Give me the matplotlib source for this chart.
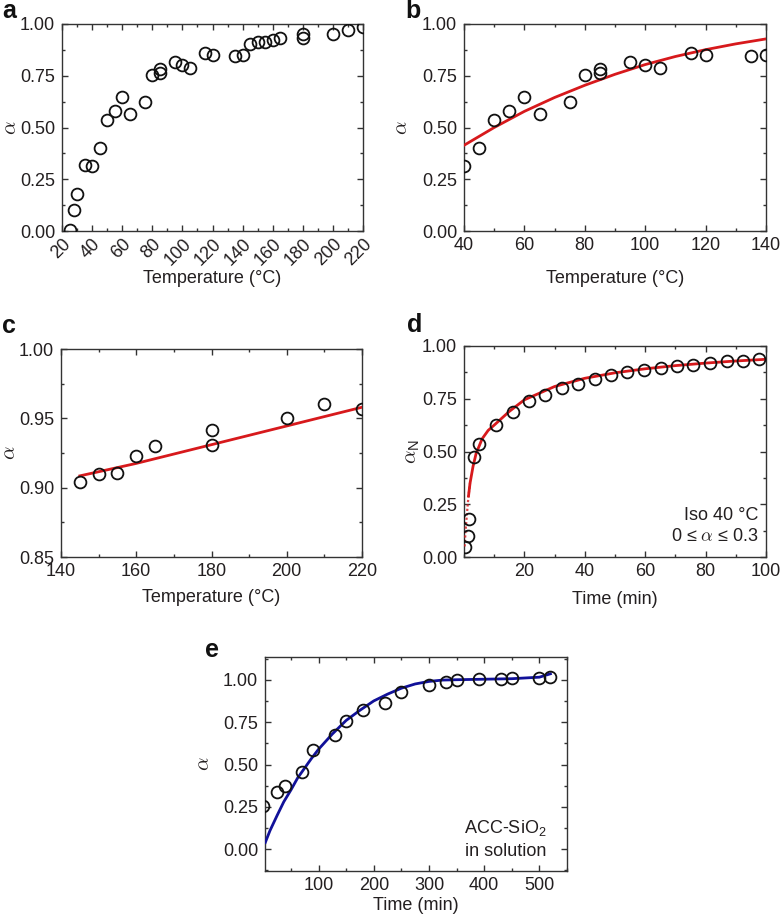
import numpy as np
import matplotlib
matplotlib.use('Agg')
import matplotlib.pyplot as plt
from matplotlib.ticker import MultipleLocator

# ---------------- dados ----------------
# painel a (e b usa os mesmos pontos, recortados em 40-140)
temp_a = [25, 28, 30, 35, 40, 45, 50, 55, 60, 65, 75, 80, 85, 85, 95, 100,
          105, 115, 120, 135, 140, 145, 150, 155, 160, 165, 180, 180, 200, 210, 220]
alpha_a = [0.005, 0.10, 0.177, 0.32, 0.315, 0.40, 0.536, 0.58, 0.645, 0.567,
           0.624, 0.752, 0.783, 0.762, 0.818, 0.80, 0.788, 0.858, 0.849, 0.843,
           0.852, 0.905, 0.911, 0.911, 0.925, 0.933, 0.931, 0.952, 0.952, 0.973, 0.986]

# ajuste do painel b
fit_b_T = [40, 50, 60, 70, 80, 90, 100, 110, 120, 130, 140]
fit_b_alpha = [0.414, 0.50, 0.578, 0.645, 0.704, 0.757, 0.804, 0.843, 0.876, 0.904, 0.928]

# painel c
temp_c = [145, 150, 155, 160, 165, 180, 180, 200, 210, 220]
alpha_c = [0.904, 0.910, 0.9105, 0.923, 0.930, 0.931, 0.9415, 0.950, 0.960, 0.957]
fit_c_T = [145, 160, 180, 200, 220]
fit_c_alpha = [0.9085, 0.9175, 0.931, 0.9445, 0.958]

# painel d
time_d = [0.3, 1.2, 1.8, 3.4, 5.1, 10.6, 16.2, 21.5, 26.8, 32.3, 37.9, 43.3,
          48.7, 54.1, 59.6, 65.1, 70.4, 75.9, 81.5, 87.0, 92.3, 97.8]
alpha_d = [0.047, 0.101, 0.18, 0.475, 0.535, 0.625, 0.687, 0.741, 0.767, 0.799,
           0.821, 0.842, 0.861, 0.877, 0.886, 0.897, 0.905, 0.910, 0.921, 0.929,
           0.930, 0.937]
fit_d_t = [0.2, 0.5, 1.0, 1.5, 2.0, 3.0, 4.0, 6.0, 8.0, 10, 15, 20, 30, 40,
           50, 60, 70, 80, 90, 100]
fit_d_alpha = [0.05, 0.12, 0.21, 0.29, 0.35, 0.43, 0.49, 0.56, 0.60, 0.625,
               0.69, 0.745, 0.808, 0.847, 0.873, 0.892, 0.907, 0.919, 0.929, 0.937]

# painel e
time_e = [0, 25, 40, 70, 90, 130, 150, 180, 220, 250, 300, 330, 350, 390,
          430, 450, 500, 520]
alpha_e = [0.256, 0.335, 0.374, 0.455, 0.587, 0.673, 0.758, 0.819, 0.862, 0.925,
           0.969, 0.988, 1.0, 1.004, 1.004, 1.008, 1.008, 1.016]
fit_e_t = [3.5, 12, 25, 37, 50, 62, 75, 87, 100, 125, 150, 175, 200, 225, 250,
           275, 300, 325, 350, 400, 450, 500, 520]
fit_e_alpha = [0.04, 0.11, 0.20, 0.28, 0.35, 0.42, 0.48, 0.535, 0.59, 0.68,
               0.76, 0.82, 0.875, 0.915, 0.95, 0.975, 0.99, 0.998, 1.0, 1.003,
               1.006, 1.015, 1.035]

# ---------------- estilo ----------------
plt.rcParams['font.family'] = ['Liberation Sans', 'DejaVu Sans']
plt.rcParams['mathtext.fontset'] = 'cm'
plt.rcParams['font.size'] = 13
TXT = '#231f20'
VERM = '#d7191c'
AZUL = '#111199'

W, H = 781, 917
fig = plt.figure(figsize=(W/100, H/100), dpi=100)


def caixa(l, r, t, b):
    # converte pixels da imagem em fracao da figura
    return [l/W, 1 - b/H, (r - l)/W, (b - t)/H]


def estilo(ax, xmaj, xmin, ymaj, ymin):
    ax.xaxis.set_major_locator(MultipleLocator(xmaj))
    ax.xaxis.set_minor_locator(MultipleLocator(xmin))
    ax.yaxis.set_major_locator(MultipleLocator(ymaj))
    ax.yaxis.set_minor_locator(MultipleLocator(ymin))
    ax.tick_params(which='both', direction='in', top=True, right=True,
                   colors='#333333', labelcolor=TXT, width=1.0)
    ax.tick_params(which='major', length=4)
    ax.tick_params(which='minor', length=2.2)
    ax.tick_params(axis='x', pad=4)
    ax.tick_params(axis='y', pad=5)
    ax.yaxis.set_major_formatter(lambda v, p: '%.2f' % v)
    for s in ax.spines.values():
        s.set_color('#333333')
        s.set_linewidth(1.0)


def pontos(ax, x, y):
    ax.plot(x, y, 'o', ms=8.5, mfc='none', mec='#111111', mew=1.3, zorder=5)


def letra(txt, x, y):
    fig.text(x/W, 1 - y/H, txt, fontsize=18, fontweight='bold', color='#111111',
             ha='left', va='baseline')


# ---------------- a ----------------
ax = fig.add_axes(caixa(62, 363, 24, 231))
pontos(ax, temp_a, alpha_a)
ax.set_xlim(20, 220)
ax.set_ylim(0, 1)
estilo(ax, 20, 10, 0.25, 0.125)
for lab in ax.get_xticklabels():
    lab.set_rotation(45)
    lab.set_ha('right')
    lab.set_rotation_mode('anchor')
ax.tick_params(axis='x', pad=3)
ax.set_xlabel('Temperature (°C)', color=TXT)
ax.xaxis.set_label_coords(0.5, -0.19)
ax.set_ylabel(r'$\alpha$', color=TXT, fontsize=15)
ax.yaxis.set_label_coords(-0.138, 0.5)
letra('a', 2, 18)

# ---------------- b ----------------
ax = fig.add_axes(caixa(464, 766, 24, 231))
ax.plot(fit_b_T, fit_b_alpha, color=VERM, lw=2.0, zorder=3)
pontos(ax, temp_a, alpha_a)
ax.set_xlim(40, 140)
ax.set_ylim(0, 1)
estilo(ax, 20, 10, 0.25, 0.125)
ax.set_xlabel('Temperature (°C)', color=TXT)
ax.xaxis.set_label_coords(0.5, -0.19)
ax.set_ylabel(r'$\alpha$', color=TXT, fontsize=15)
ax.yaxis.set_label_coords(-0.175, 0.5)
letra('b', 405, 18)

# ---------------- c ----------------
ax = fig.add_axes(caixa(61, 362, 349, 557))
ax.plot(fit_c_T, fit_c_alpha, color=VERM, lw=2.0, zorder=3)
pontos(ax, temp_c, alpha_c)
ax.set_xlim(140, 220)
ax.set_ylim(0.85, 1.0)
estilo(ax, 20, 10, 0.05, 0.025)
ax.set_xlabel('Temperature (°C)', color=TXT)
ax.xaxis.set_label_coords(0.5, -0.155)
ax.set_ylabel(r'$\alpha$', color=TXT, fontsize=15)
ax.yaxis.set_label_coords(-0.14, 0.5)
letra('c', 2, 333)

# ---------------- d ----------------
ax = fig.add_axes(caixa(464, 766, 346, 557))
fd_t = np.array(fit_d_t)
fd_a = np.array(fit_d_alpha)
k = int((fd_a <= 0.3).sum())
# trecho 0 <= alpha <= 0.3 pontilhado, resto continuo
ax.plot(fd_t[:k + 1], fd_a[:k + 1], color=VERM, lw=1.6, ls=(0, (1, 1)), alpha=0.8, zorder=3)
ax.plot(fd_t[k - 1:], fd_a[k - 1:], color=VERM, lw=2.0, zorder=3)
pontos(ax, time_d, alpha_d)
ax.set_xlim(0, 100)
ax.set_ylim(0, 1)
estilo(ax, 20, 10, 0.25, 0.125)
ax.set_xticks([20, 40, 60, 80, 100])
ax.set_xlabel('Time (min)', color=TXT)
ax.xaxis.set_label_coords(0.5, -0.16)
ax.set_ylabel(r'$\alpha_\mathregular{N}$', color=TXT, fontsize=15)
ax.yaxis.set_label_coords(-0.138, 0.5)
ax.text(0.975, 0.075, 'Iso 40 °C\n0 ≤ $\\alpha$ ≤ 0.3', transform=ax.transAxes,
        ha='right', va='baseline', color=TXT, linespacing=1.3)
letra('d', 407, 332)

# ---------------- e ----------------
ax = fig.add_axes(caixa(265, 567, 657, 871))
ax.plot(fit_e_t, fit_e_alpha, color=AZUL, lw=2.0, zorder=3)
pontos(ax, time_e, alpha_e)
ax.set_xlim(3, 550)
ax.set_ylim(-0.128, 1.134)
estilo(ax, 100, 50, 0.25, 0.125)
ax.set_xlabel('Time (min)', color=TXT)
ax.xaxis.set_label_coords(0.5, -0.12)
ax.set_ylabel(r'$\alpha$', color=TXT, fontsize=15)
ax.yaxis.set_label_coords(-0.17, 0.5)
ax.text(0.933, 0.07, 'ACC-SiO$_\\mathregular{2}$\nin solution', transform=ax.transAxes,
        ha='right', va='baseline', color=TXT, linespacing=1.3)
letra('e', 205, 657)

fig.savefig('out.png', dpi=100)
